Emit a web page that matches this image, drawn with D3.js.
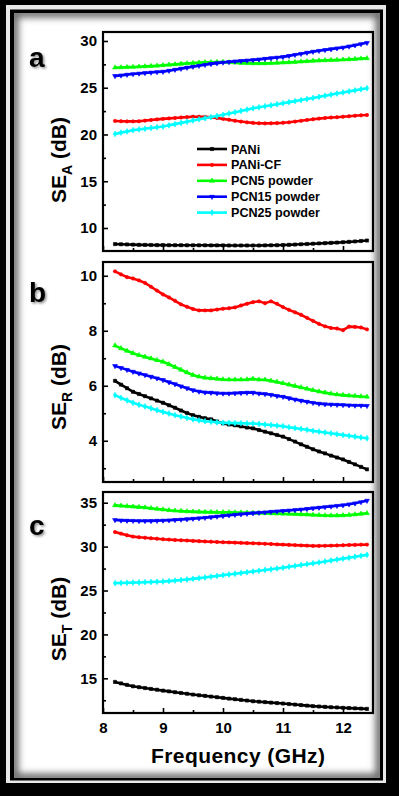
<!DOCTYPE html>
<html>
<head>
<meta charset="utf-8">
<script src="https://cdnjs.cloudflare.com/ajax/libs/d3/7.8.5/d3.min.js"></script>
<style>
  body { margin: 0; background: #000; }
  svg { display: block; }
  text { font-family: "Liberation Sans", Arial, sans-serif; font-weight: bold; fill: #000; }
</style>
</head>
<body>
<svg id="fig" width="399" height="796"></svg>
<script>
// frequency (GHz)
var freq = [8.2,8.3,8.4,8.5,8.6,8.7,8.8,8.9,9.0,9.1,9.2,9.3,9.4,9.5,9.6,9.7,9.8,9.9,10.0,10.1,10.2,
  10.3,10.4,10.5,10.6,10.7,10.8,10.9,11.0,11.1,11.2,11.3,11.4,11.5,11.6,11.7,11.8,11.9,12.0,12.1,12.2,12.3,12.4];

var seriesNames = ["PANi", "PANi-CF", "PCN5 powder", "PCN15 powder", "PCN25 powder"];

// SE_A (dB)
var seA_pani = [8.28,8.26,8.24,8.22,8.2,8.19,8.18,8.17,8.17,8.16,8.16,8.16,8.15,8.15,8.15,8.15,8.14,8.14,8.14,8.13,8.13,
  8.13,8.13,8.13,8.13,8.14,8.15,8.16,8.18,8.2,8.23,8.26,8.29,8.32,8.35,8.38,8.41,8.44,8.48,8.52,8.56,8.61,8.66];
var seA_panicf = [21.45,21.42,21.4,21.4,21.42,21.48,21.55,21.62,21.67,21.72,21.77,21.82,21.86,21.9,21.9,21.88,21.85,21.77,21.67,21.57,21.47,
  21.38,21.3,21.24,21.2,21.19,21.2,21.22,21.25,21.3,21.38,21.46,21.55,21.63,21.7,21.76,21.81,21.85,21.9,21.95,22.0,22.05,22.08];
var seA_pcn5 = [27.15,27.17,27.2,27.22,27.25,27.28,27.31,27.35,27.4,27.45,27.5,27.55,27.6,27.64,27.68,27.71,27.73,27.75,27.75,27.72,27.68,
  27.64,27.62,27.6,27.6,27.6,27.62,27.65,27.68,27.71,27.75,27.79,27.83,27.87,27.9,27.93,27.95,27.97,28.0,28.03,28.07,28.11,28.15];
var seA_pcn15 = [26.26,26.32,26.4,26.46,26.52,26.58,26.63,26.68,26.72,26.82,26.93,27.04,27.15,27.25,27.35,27.45,27.55,27.63,27.7,27.76,27.82,
  27.87,27.92,27.97,28.03,28.1,28.17,28.23,28.3,28.41,28.52,28.63,28.75,28.86,28.95,29.04,29.13,29.22,29.3,29.42,29.54,29.67,29.8];
var seA_pcn25 = [20.06,20.2,20.33,20.46,20.55,20.62,20.7,20.78,20.85,20.98,21.11,21.24,21.37,21.5,21.62,21.74,21.86,21.98,22.1,22.24,22.38,
  22.52,22.66,22.8,22.91,23.02,23.13,23.24,23.35,23.46,23.57,23.68,23.79,23.9,24.02,24.14,24.26,24.38,24.5,24.61,24.72,24.84,24.95];

// SE_R (dB)
var seR_pani = [6.18,6.04,5.91,5.78,5.7,5.62,5.54,5.46,5.38,5.29,5.2,5.1,5.01,4.93,4.87,4.82,4.78,4.7,4.63,4.59,4.56,
  4.52,4.48,4.45,4.39,4.33,4.27,4.21,4.15,4.06,3.97,3.87,3.78,3.69,3.61,3.54,3.46,3.39,3.32,3.23,3.14,3.05,2.96];
var seR_panicf = [10.16,10.05,9.95,9.9,9.83,9.74,9.6,9.46,9.32,9.21,9.09,8.96,8.87,8.79,8.74,8.74,8.74,8.77,8.8,8.82,8.85,
  8.92,8.98,9.04,9.07,9.0,9.07,8.98,8.86,8.76,8.67,8.58,8.47,8.36,8.25,8.16,8.1,8.08,8.02,8.15,8.14,8.12,8.05];
var seR_pcn5 = [7.46,7.36,7.27,7.18,7.11,7.05,6.99,6.93,6.87,6.78,6.68,6.58,6.48,6.39,6.33,6.29,6.27,6.25,6.23,6.22,6.22,
  6.22,6.23,6.25,6.22,6.22,6.18,6.14,6.09,6.04,5.99,5.94,5.89,5.84,5.79,5.75,5.71,5.68,5.66,5.64,5.63,5.61,5.6];
var seR_pcn15 = [6.72,6.65,6.58,6.51,6.45,6.39,6.33,6.27,6.21,6.13,6.06,5.98,5.91,5.84,5.79,5.76,5.75,5.73,5.72,5.72,5.73,
  5.74,5.75,5.75,5.72,5.7,5.67,5.63,5.6,5.55,5.5,5.46,5.42,5.38,5.35,5.33,5.32,5.31,5.3,5.29,5.28,5.28,5.27];
var seR_pcn25 = [5.66,5.56,5.47,5.38,5.31,5.25,5.18,5.11,5.05,4.99,4.93,4.88,4.83,4.78,4.74,4.71,4.69,4.67,4.65,4.65,4.64,
  4.64,4.63,4.63,4.61,4.59,4.57,4.55,4.53,4.49,4.46,4.43,4.4,4.36,4.33,4.3,4.27,4.24,4.21,4.18,4.15,4.12,4.09];

// SE_T (dB)
var seT_pani = [14.59,14.42,14.25,14.09,13.99,13.89,13.79,13.7,13.6,13.51,13.42,13.33,13.24,13.15,13.07,13.0,12.92,12.85,12.77,12.69,12.62,
  12.54,12.47,12.39,12.34,12.29,12.23,12.18,12.13,12.07,12.01,11.95,11.89,11.83,11.79,11.75,11.71,11.68,11.64,11.61,11.58,11.55,11.52];
var seT_panicf = [31.66,31.48,31.3,31.14,31.07,31.01,30.95,30.9,30.84,30.8,30.76,30.72,30.69,30.65,30.62,30.59,30.56,30.53,30.5,30.48,30.45,
  30.43,30.4,30.38,30.35,30.32,30.29,30.26,30.23,30.2,30.17,30.14,30.11,30.08,30.08,30.09,30.11,30.13,30.16,30.18,30.2,30.22,30.23];
var seT_pcn5 = [34.7,34.65,34.6,34.55,34.5,34.45,34.37,34.29,34.22,34.15,34.09,34.05,34.01,33.98,33.96,33.94,33.93,33.92,33.91,33.9,33.89,
  33.88,33.86,33.84,33.82,33.8,33.78,33.76,33.74,33.72,33.7,33.67,33.64,33.61,33.58,33.55,33.53,33.53,33.56,33.6,33.66,33.73,33.8];
var seT_pcn15 = [33.03,32.99,32.96,32.94,32.92,32.92,32.93,32.95,32.97,33.0,33.04,33.08,33.13,33.18,33.23,33.29,33.36,33.43,33.5,33.57,33.63,
  33.69,33.75,33.81,33.86,33.91,33.97,34.02,34.07,34.12,34.17,34.23,34.3,34.37,34.44,34.51,34.58,34.65,34.72,34.82,34.93,35.07,35.23];
var seT_pcn25 = [25.84,25.86,25.88,25.9,25.92,25.95,25.97,26.0,26.02,26.07,26.13,26.19,26.26,26.33,26.41,26.49,26.58,26.66,26.75,26.83,26.91,
  26.99,27.08,27.16,27.25,27.34,27.42,27.51,27.6,27.7,27.8,27.9,28.0,28.1,28.2,28.31,28.42,28.52,28.63,28.73,28.84,28.95,29.06];

var xTicks = [8, 9, 10, 11, 12];
var xMinor = [8.5, 9.5, 10.5, 11.5];
var aTicks = [10, 15, 20, 25, 30];
var aMinor = [12.5, 17.5, 22.5, 27.5];
var bTicks = [4, 6, 8, 10];
var bMinor = [3, 5, 7, 9];
var cTicks = [15, 20, 25, 30, 35];
var cMinor = [12.5, 17.5, 22.5, 27.5, 32.5];

var colors = ["#000000", "#ff0000", "#00ff00", "#0000ff", "#00ffff"];
var symbols = [d3.symbolSquare, d3.symbolCircle, d3.symbolTriangle, d3.symbolTriangle, d3.symbolDiamond];

var svg = d3.select("#fig");
var defs = svg.append("defs");

// frame -------------------------------------------------------
svg.append("rect").attr("width", 399).attr("height", 796).attr("fill", "#000");
svg.append("rect").attr("x", 6).attr("y", 5).attr("width", 380).attr("height", 778).attr("fill", "#e8e8e8");
svg.append("rect").attr("x", 10).attr("y", 9.5).attr("width", 373).attr("height", 771).attr("fill", "#000");

defs.append("clipPath").attr("id", "inner")
  .append("rect").attr("x", 14).attr("y", 13).attr("width", 366).attr("height", 765);
var blur = defs.append("filter").attr("id", "blur").attr("x", "-10%").attr("y", "-10%").attr("width", "120%").attr("height", "120%");
blur.append("feGaussianBlur").attr("stdDeviation", 3.5);

var shadow = defs.append("filter").attr("id", "shadow").attr("x", "-30%").attr("y", "-30%").attr("width", "160%").attr("height", "160%");
shadow.append("feDropShadow").attr("dx", 1.5).attr("dy", 1.5).attr("stdDeviation", 1.2)
  .attr("flood-color", "#000").attr("flood-opacity", 0.45);

var inner = svg.append("g").attr("clip-path", "url(#inner)");
inner.append("rect").attr("x", 14).attr("y", 13).attr("width", 366).attr("height", 765).attr("fill", "#fff");
inner.append("rect").attr("x", 14).attr("y", 13).attr("width", 366).attr("height", 765)
  .attr("fill", "none").attr("stroke", "#6a6a6a").attr("stroke-width", 9).attr("filter", "url(#blur)");

// panels ------------------------------------------------------
var x = d3.scaleLinear().domain([8, 12.5]).range([103, 373]);

var panels = [
  { letter: "a", sub: "A", top: 32, bottom: 251, dom: [7.54, 30.96], ticks: aTicks, minor: aMinor,
    data: [seA_pani, seA_panicf, seA_pcn5, seA_pcn15, seA_pcn25], letterY: 67, titleY: 160 },
  { letter: "b", sub: "R", top: 262, bottom: 482, dom: [2.5, 10.5], ticks: bTicks, minor: bMinor,
    data: [seR_pani, seR_panicf, seR_pcn5, seR_pcn15, seR_pcn25], letterY: 302, titleY: 387 },
  { letter: "c", sub: "T", top: 492, bottom: 713, dom: [11.05, 36.22], ticks: cTicks, minor: cMinor,
    data: [seT_pani, seT_panicf, seT_pcn5, seT_pcn15, seT_pcn25], letterY: 535, titleY: 619 }
];

function symbolPath(s) {
  var size = s == 1 ? 9 : 10;
  return d3.symbol().type(symbols[s]).size(size)();
}

function drawMarks(g, s, px, py) {
  g.append("path")
    .attr("d", symbolPath(s))
    .attr("transform", "translate(" + px + "," + py + ")" + (s == 3 ? " rotate(180)" : ""))
    .attr("fill", colors[s]).attr("stroke", colors[s]).attr("stroke-width", 0.6);
}

panels.forEach(function(p, pi) {
  var y = d3.scaleLinear().domain(p.dom).range([p.bottom, p.top]);
  var g = svg.append("g");

  // series
  p.data.forEach(function(vals, s) {
    var pts = freq.map(function(f, i) { return [f, vals[i]]; });
    var line = d3.line().x(function(d) { return x(d[0]); }).y(function(d) { return y(d[1]); });
    var sg = g.append("g");
    sg.append("path").attr("d", line(pts))
      .attr("fill", "none").attr("stroke", colors[s]).attr("stroke-width", 2.6);
    pts.forEach(function(d) { drawMarks(sg, s, x(d[0]), y(d[1])); });
  });

  // axes (ticks inward)
  var yAxis = d3.axisLeft(y).tickValues(p.ticks).tickSize(-5).tickPadding(6).tickFormat(d3.format("d"));
  var yMin = d3.axisLeft(y).tickValues(p.minor).tickSize(-3).tickFormat("");
  var xAxis = d3.axisBottom(x).tickValues(xTicks).tickSize(-5).tickPadding(9)
    .tickFormat(pi == 2 ? d3.format("d") : "");
  var xMin = d3.axisBottom(x).tickValues(xMinor).tickSize(-3).tickFormat("");

  [g.append("g").attr("transform", "translate(103,0)").call(yAxis),
   g.append("g").attr("transform", "translate(103,0)").call(yMin),
   g.append("g").attr("transform", "translate(0," + p.bottom + ")").call(xAxis),
   g.append("g").attr("transform", "translate(0," + p.bottom + ")").call(xMin)
  ].forEach(function(ax) {
    ax.select(".domain").remove();
    ax.selectAll("line").attr("stroke", "#000").attr("stroke-width", 1.6);
    ax.selectAll("text").style("font-size", "15px").style("font-family", "'Liberation Sans', Arial, sans-serif")
      .style("font-weight", "bold").attr("fill", "#000");
  });

  g.append("rect").attr("x", 103).attr("y", p.top).attr("width", 270).attr("height", p.bottom - p.top)
    .attr("fill", "none").attr("stroke", "#000").attr("stroke-width", 2.2);

  // y title
  var t = g.append("text")
    .attr("transform", "translate(66," + p.titleY + ") rotate(-90)")
    .attr("text-anchor", "middle")
    .style("font-size", "21px");
  t.append("tspan").text("SE");
  t.append("tspan").text(p.sub).attr("dy", 6).style("font-size", "14px");
  t.append("tspan").text(" (dB)").attr("dy", -6);

  // panel letter
  svg.append("text").attr("x", 29).attr("y", p.letterY).text(p.letter)
    .style("font-size", "28px").attr("filter", "url(#shadow)");
});

// legend
var legend = svg.append("g");
seriesNames.forEach(function(name, s) {
  var ly = 149 + s * 15.9;
  legend.append("line").attr("x1", 197).attr("x2", 227).attr("y1", ly).attr("y2", ly)
    .attr("stroke", colors[s]).attr("stroke-width", 2.6);
  drawMarks(legend, s, 212, ly);
  legend.append("text").attr("x", 231).attr("y", ly + 4.5).text(name).style("font-size", "12.6px");
});

// x title
svg.append("text").attr("x", 238).attr("y", 763).attr("text-anchor", "middle")
  .attr("textLength", 174).text("Frequency (GHz)").style("font-size", "21px");
</script>
</body>
</html>
